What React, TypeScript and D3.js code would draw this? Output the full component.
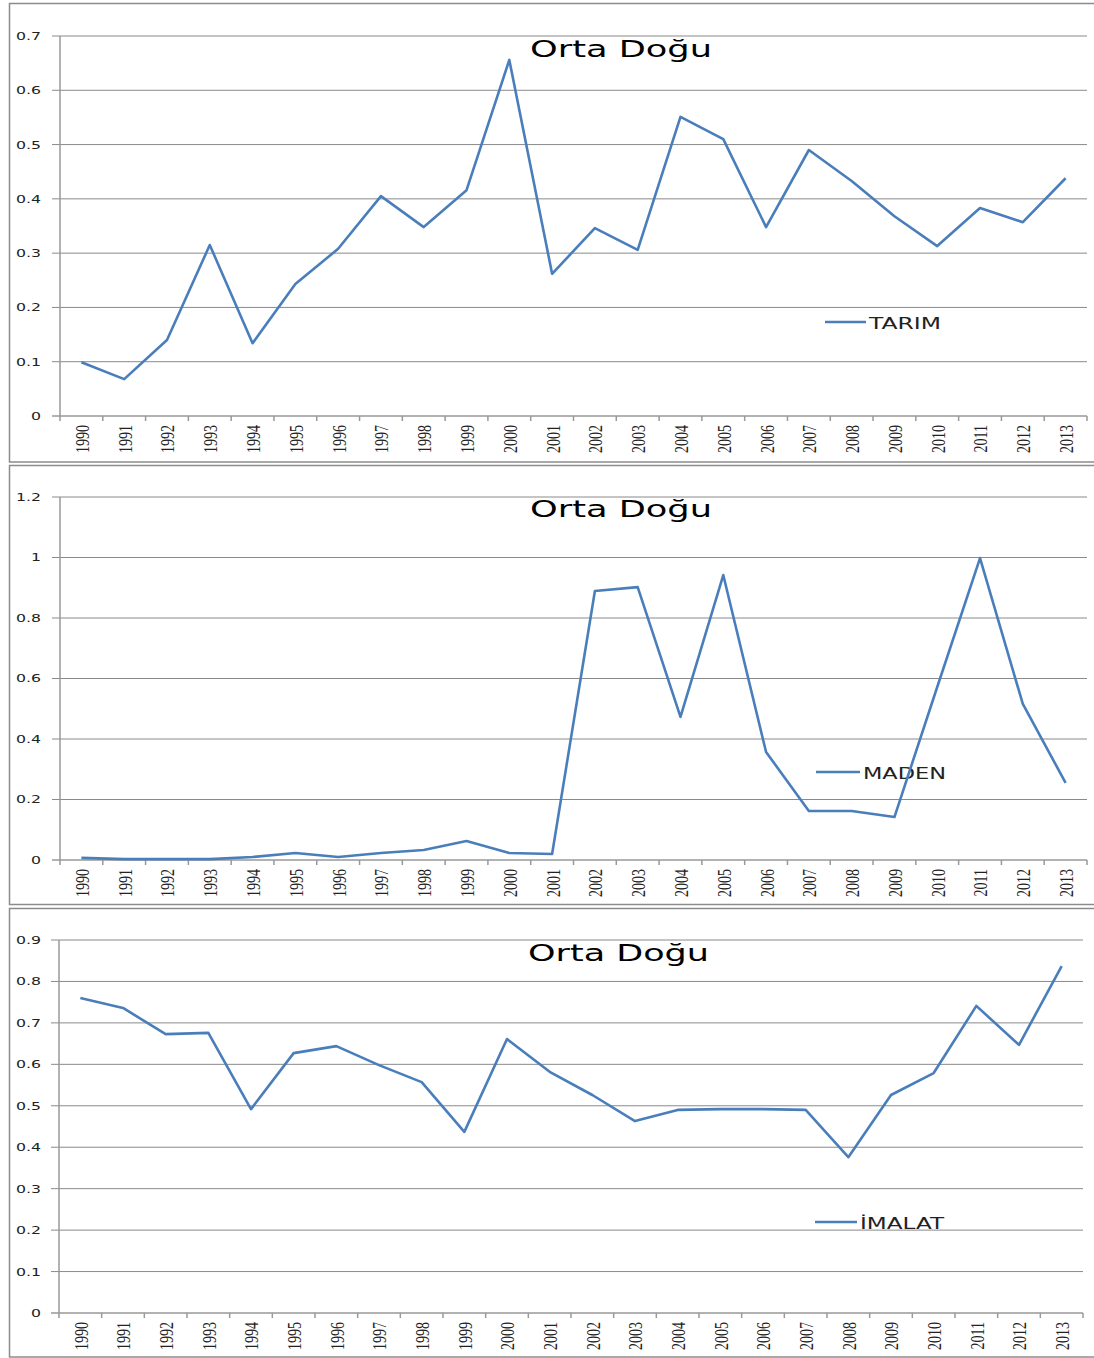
import React from "react";
import * as d3 from "d3";

const years = [
  "1990", "1991", "1992", "1993", "1994", "1995", "1996", "1997", "1998", "1999", "2000", "2001",
  "2002", "2003", "2004", "2005", "2006", "2007", "2008", "2009", "2010", "2011", "2012", "2013",
];

const tarim = [
  0.099, 0.068, 0.14, 0.315, 0.134, 0.243, 0.308, 0.405, 0.348, 0.416, 0.656, 0.262,
  0.346, 0.306, 0.551, 0.51, 0.348, 0.49, 0.433, 0.368, 0.313, 0.383, 0.357, 0.438,
];

const maden = [
  0.007, 0.003, 0.003, 0.003, 0.01, 0.023, 0.01, 0.023, 0.033, 0.063, 0.023, 0.02,
  0.889, 0.902, 0.473, 0.942, 0.357, 0.162, 0.162, 0.142, 0.572, 0.998, 0.516, 0.255,
];

const imalat = [
  0.76, 0.736, 0.673, 0.676, 0.492, 0.627, 0.644, 0.598, 0.557, 0.437, 0.661, 0.582,
  0.526, 0.463, 0.49, 0.492, 0.492, 0.49, 0.376, 0.526, 0.579, 0.741, 0.647, 0.837,
];

const tarimTicks = [0, 0.1, 0.2, 0.3, 0.4, 0.5, 0.6, 0.7];
const madenTicks = [0, 0.2, 0.4, 0.6, 0.8, 1, 1.2];
const imalatTicks = [0, 0.1, 0.2, 0.3, 0.4, 0.5, 0.6, 0.7, 0.8, 0.9];

const chartTitle = "Orta Doğu";
const seriesNames = ["TARIM", "MADEN", "İMALAT"];

const LINE_COLOR = "#4a7ebb";
const GRID_COLOR = "#8a8a8a";
const BORDER_COLOR = "#8c8c8c";

type PanelCfg = {
  name: string;
  values: number[];
  ticks: number[];
  boxTop: number;
  boxBottom: number;
  left: number;
  right: number;
  top: number;
  bottom: number;
  titleX: number;
  titleY: number;
  titleLen: number;
  legX1: number;
  legX2: number;
  legY: number;
  legTextX: number;
  legTextLen: number;
};

const panels: PanelCfg[] = [
  {
    name: seriesNames[0], values: tarim, ticks: tarimTicks,
    boxTop: 3.5, boxBottom: 462, left: 60, right: 1087, top: 36, bottom: 416,
    titleX: 530, titleY: 57, titleLen: 182,
    legX1: 825, legX2: 866, legY: 322, legTextX: 869, legTextLen: 72,
  },
  {
    name: seriesNames[1], values: maden, ticks: madenTicks,
    boxTop: 465.5, boxBottom: 904.5, left: 60, right: 1087, top: 497, bottom: 860,
    titleX: 530, titleY: 517, titleLen: 182,
    legX1: 816, legX2: 860, legY: 772, legTextX: 863, legTextLen: 83,
  },
  {
    name: seriesNames[2], values: imalat, ticks: imalatTicks,
    boxTop: 908.5, boxBottom: 1357, left: 59, right: 1083, top: 940, bottom: 1313,
    titleX: 528, titleY: 961, titleLen: 181,
    legX1: 815, legX2: 857, legY: 1222, legTextX: 860, legTextLen: 84,
  },
];

function Panel({ p }: { p: PanelCfg }) {
  const x = d3.scaleBand<string>().domain(years).range([p.left, p.right]).padding(0);
  const bw = x.bandwidth();
  const maxV = p.ticks[p.ticks.length - 1];
  const y = d3.scaleLinear().domain([0, maxV]).range([p.bottom, p.top]);
  const line = d3
    .line<number>()
    .x((_, i) => (x(years[i]) as number) + bw / 2)
    .y((d) => y(d));
  const boundaries = d3.range(years.length + 1).map((i) => p.left + i * bw);
  const fmt = (t: number) => String(+t.toFixed(1));

  return (
    <g>
      <rect
        x={9.5}
        y={p.boxTop}
        width={1100}
        height={p.boxBottom - p.boxTop}
        fill="#fff"
        stroke={BORDER_COLOR}
        strokeWidth={1.5}
      />
      {p.ticks.map((t) => (
        <g key={t}>
          {t > 0 && (
            <line x1={p.left - 8} x2={p.right} y1={y(t)} y2={y(t)} stroke={GRID_COLOR} strokeWidth={1} />
          )}
          <text
            transform={`translate(41,${y(t)}) scale(1.43,1)`}
            textAnchor="end"
            dy="0.36em"
            fontFamily="DejaVu Sans, Verdana, sans-serif"
            fontSize={11}
            fill="#222"
          >
            {fmt(t)}
          </text>
        </g>
      ))}
      {/* y axis */}
      <line x1={p.left} x2={p.left} y1={p.top} y2={p.bottom} stroke="#999" strokeWidth={1.5} />
      {/* x axis */}
      <line x1={p.left - 8} x2={p.right} y1={p.bottom} y2={p.bottom} stroke="#999" strokeWidth={1.5} />
      {boundaries.map((bx, i) => (
        <line key={i} x1={bx} x2={bx} y1={p.bottom} y2={p.bottom + 5} stroke="#999" strokeWidth={1.5} />
      ))}
      {years.map((yr) => (
        <text
          key={yr}
          transform={`translate(${(x(yr) as number) + bw / 2 + 1},${p.bottom + 9}) rotate(-90) scale(1,1.4)`}
          textAnchor="end"
          dy="0.33em"
          fontFamily="Liberation Serif, Times New Roman, serif"
          fontSize={14}
          fill="#222"
        >
          {yr}
        </text>
      ))}
      {/* title */}
      <text
        x={p.titleX}
        y={p.titleY}
        textLength={p.titleLen}
        lengthAdjust="spacingAndGlyphs"
        fontFamily="DejaVu Sans, Verdana, sans-serif"
        fontSize={23}
        fill="#000"
      >
        {chartTitle}
      </text>
      {/* legend */}
      <line x1={p.legX1} x2={p.legX2} y1={p.legY} y2={p.legY} stroke={LINE_COLOR} strokeWidth={2.5} />
      <text
        x={p.legTextX}
        y={p.legY + 6.5}
        textLength={p.legTextLen}
        lengthAdjust="spacingAndGlyphs"
        fontFamily="DejaVu Sans, Verdana, sans-serif"
        fontSize={15}
        fill="#222"
      >
        {p.name}
      </text>
      {/* data line */}
      <path d={line(p.values) || ""} fill="none" stroke={LINE_COLOR} strokeWidth={2.6} strokeLinejoin="round" />
    </g>
  );
}

export default function App() {
  return (
    <div style={{ position: "absolute", left: 0, top: 0 }}>
      <svg width={1094} height={1358} style={{ display: "block", background: "#fff" }}>
        {panels.map((p) => (
          <Panel key={p.name} p={p} />
        ))}
      </svg>
    </div>
  );
}
